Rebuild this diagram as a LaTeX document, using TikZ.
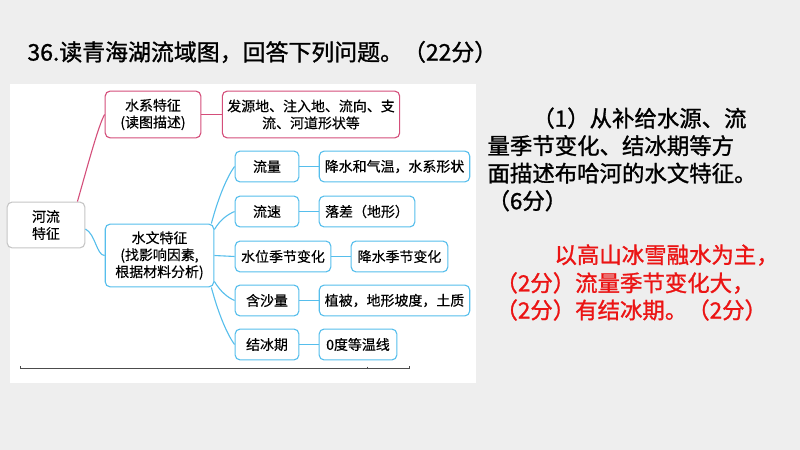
\documentclass[tikz,border=0pt]{standalone}
\usepackage{fontspec}
\setmainfont{Noto Sans CJK SC}
\newfontfamily\heavycjk{Noto Sans CJK SC}[FakeBold=1.2]
\newfontfamily\midcjk{Noto Sans CJK SC}[FakeBold=0.4]
\definecolor{waterpink}{RGB}{212,78,122}
\definecolor{waterblue}{RGB}{86,190,236}
\definecolor{slidegray}{RGB}{238,238,238}
\definecolor{answerred}{RGB}{235,20,20}
\newcommand{\diagfont}{\midcjk\fontsize{14}{17}\selectfont}
\tikzset{
  box/.style={draw,rounded corners=5pt,line width=1.1pt,fill=white,align=center,
    inner sep=1pt,minimum height=31,font=\diagfont},
  rootbox/.style={box,draw=gray!45,minimum width=78,minimum height=46},
  pinkbox/.style={box,draw=waterpink,minimum height=47},
  bluebox/.style={box,draw=waterblue},
  pinkline/.style={draw=waterpink,line width=1.1pt},
  blueline/.style={draw=waterblue,line width=1.1pt},
}
\begin{document}
\begin{tikzpicture}[x=1bp,y=-1bp]
\useasboundingbox (0,0) rectangle (800,450);
\fill[slidegray] (0,0) rectangle (800,450);
\fill[white] (10,84) rectangle (476,383);
% title
\node[anchor=west,font=\heavycjk\fontsize{23}{27}\selectfont] (title) at (24,52) {36.读青海湖流域图，回答下列问题。（22分）};
% mind map
\node[rootbox] (river) at (46,225) {河流\\特征};
\node[pinkbox,minimum width=96] (sys) at (153,114.5) {水系特征\\(读图描述)};
\node[pinkbox,minimum width=178] (sysd) at (311,114.5) {发源地、注入地、流向、支\\流、河道形状等};
\node[bluebox,minimum width=109,minimum height=63] (hyd) at (159.5,255.5) {水文特征\\(找影响因素,\\根据材料分析)};
\node[bluebox,minimum width=64] (flow) at (267,166.5) {流量};
\node[bluebox,minimum width=151] (flowd) at (394.5,166.5) {降水和气温，水系形状};
\node[bluebox,minimum width=64] (speed) at (267,211.5) {流速};
\node[bluebox,minimum width=96] (speedd) at (367,211.5) {落差（地形）};
\node[bluebox,minimum width=96] (level) at (283,256.5) {水位季节变化};
\node[bluebox,minimum width=97] (leveld) at (399.5,256.5) {降水季节变化};
\node[bluebox,minimum width=64] (sed) at (267,300.5) {含沙量};
\node[bluebox,minimum width=151] (sedd) at (394.5,300.5) {植被，地形坡度，土质};
\node[bluebox,minimum width=64] (ice) at (267,344.5) {结冰期};
\node[bluebox,minimum width=78] (iced) at (358,344.5) {0度等温线};
\draw[pinkline] ([xshift=-8pt]river.north east) .. controls +(10,-35) and +(-6,10) .. (sys.west);
\draw[blueline] ([yshift=-4pt]river.east) .. controls +(10,5) and +(-8,0) .. (hyd.west);
\draw[pinkline] (sys.east) -- (sysd.west);
\draw[blueline] ([xshift=-3pt]hyd.north east) .. controls +(8,-30) and +(-6,8) .. (flow.west);
\draw[blueline] ([yshift=-6pt]hyd.north east) .. controls +(6,-10) and +(-7,3) .. (speed.west);
\draw[blueline] (hyd.east) -- (level.west);
\draw[blueline] ([yshift=6pt]hyd.south east) .. controls +(6,10) and +(-7,-3) .. (sed.west);
\draw[blueline] ([xshift=-3pt]hyd.south east) .. controls +(8,30) and +(-6,-8) .. (ice.west);
\foreach \a/\b in {flow/flowd,speed/speedd,level/leveld,sed/sedd,ice/iced}
  \draw[blueline] (\a.east) -- (\b.west);
% scale line under the map
\draw[gray!60!black,line width=0.8pt] (20,366) -- (20,368) -- (409,368) -- (409,366);
\draw[gray!60!black,line width=0.6pt] (367,366.5) -- (367,368);
% question and answer
\node[anchor=north west,align=left,font=\heavycjk\fontsize{22.5}{27.6}\selectfont] (quest) at (484,104)
  {\hspace{2em}（1）从补给水源、流\\量季节变化、结冰期等方\\面描述布哈河的水文特征。\\（6分）};
\node[anchor=west,text=answerred,font=\heavycjk\fontsize{22.5}{27}\selectfont] (ans1) at (551,255) {以高山冰雪融水为主，};
\node[anchor=west,text=answerred,font=\heavycjk\fontsize{22.5}{27}\selectfont] (ans2) at (492,283) {（2分）流量季节变化大，};
\node[anchor=west,text=answerred,font=\heavycjk\fontsize{22.5}{27}\selectfont] (ans3) at (492,310) {（2分）有结冰期。（2分）};
\end{tikzpicture}
\end{document}
